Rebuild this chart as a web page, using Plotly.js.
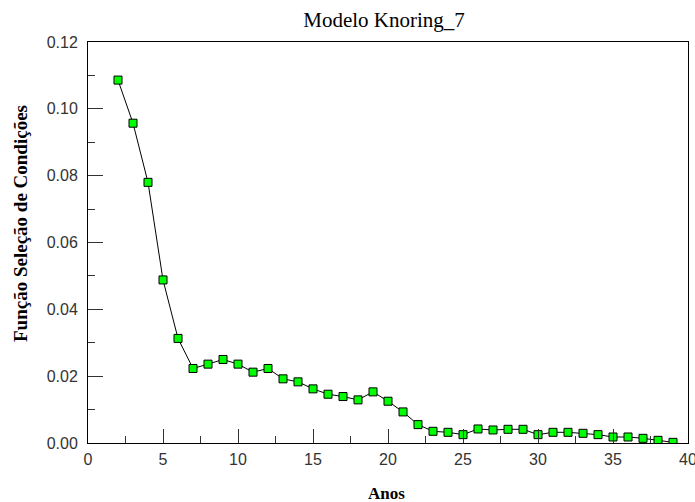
<!DOCTYPE html>
<html>
<head>
<meta charset="utf-8">
<script src="https://cdn.plot.ly/plotly-3.0.1.min.js"></script>
<style>html,body{margin:0;padding:0;background:#fff;}#chart{width:695px;height:502px;}</style>
</head>
<body>
<div id="chart"></div>
<script>
const anos = [2,3,4,5,6,7,8,9,10,11,12,13,14,15,16,17,18,19,20,21,22,23,24,25,26,27,28,29,30,31,32,33,34,35,36,37,38,39];
const funcao = [0.1086,0.0957,0.0780,0.0488,0.0313,0.0223,0.0236,0.0250,0.0236,0.0212,0.0223,0.0192,0.0183,0.0162,0.0146,0.0139,0.0129,0.0153,0.0125,0.0093,0.0055,0.0035,0.0032,0.0025,0.0042,0.0039,0.0041,0.0041,0.0025,0.0032,0.0032,0.0029,0.0025,0.0018,0.0018,0.0014,0.0008,0.0002];
const chartTitle = 'Modelo Knoring_7';
const xTitle = 'Anos';
const yTitle = 'Função Seleção de Condições';

const trace = {
  x: anos, y: funcao, type: 'scatter', mode: 'lines+markers',
  line: {color: '#000000', width: 1},
  marker: {symbol: 'square', size: 8, color: '#00ff00', line: {color: '#000000', width: 1}},
  hoverinfo: 'skip'
};
const serif = '"Liberation Serif", "Times New Roman", serif';
const sans = '"Liberation Sans", Arial, sans-serif';
const layout = {
  width: 695, height: 502,
  margin: {l: 88, r: 7, t: 42, b: 59},
  paper_bgcolor: '#ffffff', plot_bgcolor: '#ffffff',
  showlegend: false,
  title: {text: chartTitle, font: {family: serif, size: 21, color: '#000'}, x: 384/695, xanchor: 'center', xref: 'container', y: 1 - 20/502, yanchor: 'middle'},
  xaxis: {
    range: [0, 40], dtick: 5, tick0: 0,
    showgrid: false, zeroline: false,
    showline: true, linecolor: '#000', linewidth: 1, mirror: true,
    ticks: 'inside', ticklen: 14, tickcolor: '#333', tickwidth: 1,
    minor: {dtick: 2.5, ticks: 'inside', ticklen: 7, tickcolor: '#333', showgrid: false},
    tickfont: {family: sans, size: 16, color: '#333'},
    ticklabeloverflow: 'allow',
    ticklabelstandoff: 2
  },
  yaxis: {
    range: [0, 0.12], dtick: 0.02, tick0: 0, tickformat: '.2f',
    showgrid: false, zeroline: false,
    showline: true, linecolor: '#000', linewidth: 1, mirror: true,
    ticks: 'inside', ticklen: 15, tickcolor: '#333', tickwidth: 1,
    minor: {dtick: 0.01, ticks: 'inside', ticklen: 7, tickcolor: '#333', showgrid: false},
    tickfont: {family: sans, size: 16, color: '#333'},
    ticklabeloverflow: 'allow',
    ticklabelstandoff: 6
  },
  annotations: [
    {text: '<b>' + xTitle + '</b>', xref: 'paper', yref: 'paper', x: (386 - 88) / 600, y: -(493 - 443) / 401,
     xanchor: 'center', yanchor: 'middle', showarrow: false, font: {family: serif, size: 17, color: '#000'}},
    {text: '<b>' + yTitle + '</b>', xref: 'paper', yref: 'paper', x: -(88 - 20) / 600, y: (443 - 224) / 401,
     xanchor: 'center', yanchor: 'middle', textangle: -90, showarrow: false, font: {family: serif, size: 19, color: '#000'}}
  ]
};
Plotly.newPlot('chart', [trace], layout, {staticPlot: true, displayModeBar: false});
</script>
</body>
</html>
